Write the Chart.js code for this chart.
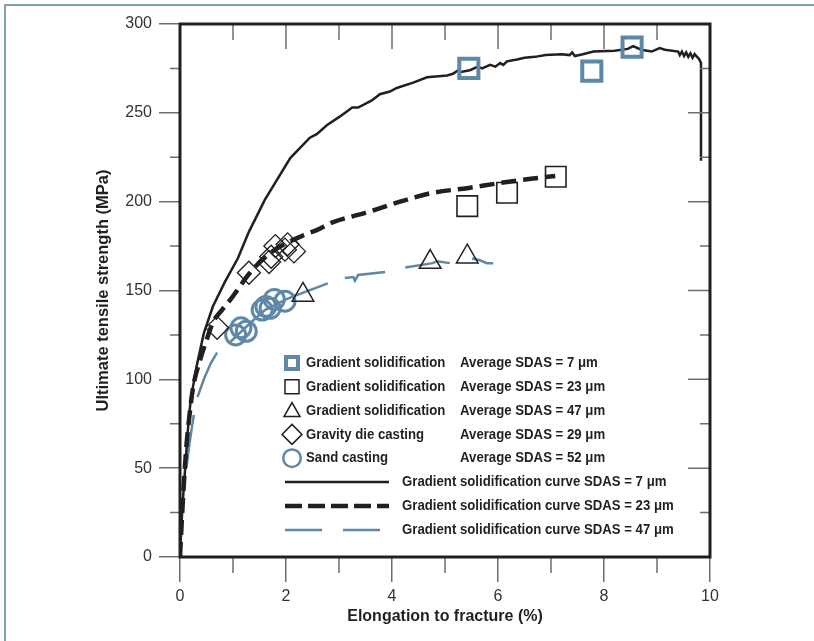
<!DOCTYPE html>
<html>
<head>
<meta charset="utf-8">
<script src="https://cdn.jsdelivr.net/npm/chart.js@4.4.1/dist/chart.umd.min.js"></script>
<style>
  html, body { margin: 0; padding: 0; background: #fff; }
  #wrap { position: relative; width: 814px; height: 641px; }
</style>
</head>
<body>
<div id="wrap"><canvas id="utsChart"></canvas></div>
<script>
// [elongation %, UTS MPa]
const curve7 = [[0,0],[0.02,14],[0.05,30],[0.1,51],[0.15,72],[0.2,88],[0.31,107],[0.45,126],[0.62,141],
  [0.85,155],[1.09,168],[1.3,183],[1.6,201],[2.08,224.5],[2.45,236],[2.58,238],[2.77,243],[3.02,248],
  [3.25,253],[3.36,253],[3.62,257],[3.77,260.5],[3.96,262],[4.09,264],[4.4,267],[4.66,270],[5.04,271],
  [5.15,272],[5.25,274],[5.3,273],[5.47,274],[5.62,276],[5.7,275],[5.85,277],[5.95,276],[6.04,278],
  [6.1,277],[6.17,279],[6.36,280],[6.5,281],[6.7,281.5],[6.9,282.5],[7.2,283],[7.35,282.5],[7.4,284],
  [7.45,282],[7.6,283],[7.8,284.5],[8.2,285],[8.45,286],[8.55,287.5],[8.7,285.5],[8.9,284.5],[9.05,286.5],
  [9.15,285.5],[9.4,284.5],[9.43,282.5],[9.47,284.5],[9.51,282],[9.55,284],[9.59,281.5],[9.63,283.5],
  [9.67,281],[9.71,283],[9.8,280],[9.83,278],[9.83,223]];

const curve23 = [[0,0],[0.03,18],[0.07,40],[0.12,62],[0.18,80],[0.25,96],[0.38,111],[0.5,122],[0.62,132],
  [0.79,139],[0.98,146],[1.32,160],[1.7,171],[2.32,181],[2.58,184],[2.89,188.5],[3.53,194],[4.15,200],
  [4.77,205],[5.42,207.6],[6.04,210.5],[6.66,213],[7.08,214.5]];

// null y = break in the long-dash curve
const curve47 = [[0.12,50],[0.17,62],[0.26,80],[0.3,null],[0.33,90],[0.45,100],[0.58,109],[0.7,115],
  [0.8,null],[0.95,121],[1.3,131],[1.6,139],[2.0,145],[2.3,148.5],[2.79,154],[2.9,null],[3.11,157],
  [3.27,157.6],[3.3,155.5],[3.36,158.7],[3.87,160.4],[4.0,null],[4.25,163],[4.77,165.4],[4.85,166.5],
  [5.09,165.4],[5.3,null],[5.51,168],[5.66,167],[5.79,165.4],[5.91,165.4]];

const gs7 = [[5.45,275],[7.77,273.5],[8.53,287]];
const gs23 = [[5.42,197.5],[6.17,205],[7.09,214]];
const gs47 = [[2.32,147.5],[4.72,166],[5.42,169]];
const gravityDie = [[0.7,129],[1.3,160],[1.68,166],[1.72,169],[1.8,175],[1.98,173],[2.03,176],[2.15,172]];
const sandCast = [[1.05,125],[1.15,129],[1.25,127],[1.55,139],[1.62,141],[1.7,140],[1.78,145],[1.98,144]];

const xTicks = [0, 2, 4, 6, 8, 10];
const yTicks = [0, 50, 100, 150, 200, 250, 300];

const BLUE = '#5e88a7';
const INK = '#231f20';
const TICK = '#6d6e71';

const toXY = arr => arr.map(p => ({ x: p[0], y: p[1] }));

function markerSet(data, style, radius, color, width) {
  return {
    data: toXY(data), showLine: false, order: 0,
    pointStyle: style, pointRadius: radius,
    pointBorderColor: color, pointBackgroundColor: 'rgba(0,0,0,0)',
    pointBorderWidth: width
  };
}

function curveSet(data, color, width, dash, mode) {
  return {
    data: toXY(data), showLine: true, order: 1, spanGaps: false,
    borderColor: color, borderWidth: width, borderDash: dash,
    pointRadius: 0, tension: 0, cubicInterpolationMode: mode || 'default'
  };
}

// legend rows: symbol + two text columns, then three line samples
const legendMarks = [
  ['square', 'Gradient solidification', 'Average SDAS = 7 \u03bcm'],
  ['box', 'Gradient solidification', 'Average SDAS = 23 \u03bcm'],
  ['triangle', 'Gradient solidification', 'Average SDAS = 47 \u03bcm'],
  ['diamond', 'Gravity die casting', 'Average SDAS = 29 \u03bcm'],
  ['circle', 'Sand casting', 'Average SDAS = 52 \u03bcm']
];
const legendLines = [
  ['solid', 'Gradient solidification curve SDAS = 7 \u03bcm'],
  ['dash', 'Gradient solidification curve SDAS = 23 \u03bcm'],
  ['long', 'Gradient solidification curve SDAS = 47 \u03bcm']
];

function drawSymbol(ctx, kind, cx, cy) {
  ctx.save();
  ctx.setLineDash([]);
  ctx.beginPath();
  if (kind === 'square') {
    ctx.strokeStyle = BLUE; ctx.lineWidth = 4;
    ctx.rect(cx - 6, cy - 6, 12, 12);
  } else if (kind === 'box') {
    ctx.strokeStyle = INK; ctx.lineWidth = 1.5;
    ctx.rect(cx - 7, cy - 7, 14, 14);
  } else if (kind === 'triangle') {
    ctx.strokeStyle = INK; ctx.lineWidth = 1.5;
    ctx.moveTo(cx, cy - 8); ctx.lineTo(cx + 8, cy + 6); ctx.lineTo(cx - 8, cy + 6); ctx.closePath();
  } else if (kind === 'diamond') {
    ctx.strokeStyle = INK; ctx.lineWidth = 1.5;
    ctx.moveTo(cx, cy - 10); ctx.lineTo(cx + 10, cy); ctx.lineTo(cx, cy + 10); ctx.lineTo(cx - 10, cy); ctx.closePath();
  } else {
    ctx.strokeStyle = BLUE; ctx.lineWidth = 2.5;
    ctx.arc(cx, cy, 8.8, 0, Math.PI * 2);
  }
  ctx.stroke();
  ctx.restore();
}

function condensedText(ctx, str, x, y) {
  ctx.save();
  ctx.translate(x, y);
  ctx.scale(0.88, 1);
  ctx.fillText(str, 0, 0);
  ctx.restore();
}

const decor = {
  id: 'decor',
  beforeDraw(chart) {
    const ctx = chart.ctx;
    ctx.save();
    ctx.fillStyle = '#fff';
    ctx.fillRect(0, 0, chart.width, chart.height);
    ctx.strokeStyle = '#7d9fb6';
    ctx.lineWidth = 2;
    ctx.beginPath();
    ctx.moveTo(5, chart.height); ctx.lineTo(5, 5); ctx.lineTo(chart.width, 5);
    ctx.stroke();
    ctx.restore();
  },
  afterDraw(chart) {
    const ctx = chart.ctx;
    const { left, right, top, bottom } = chart.chartArea;
    const xs = chart.scales.x, ys = chart.scales.y;
    ctx.save();
    // minor and inner ticks
    ctx.strokeStyle = TICK;
    ctx.lineWidth = 1.5;
    ctx.beginPath();
    for (let v = 1; v < 10; v++) {
      const px = xs.getPixelForValue(v);
      const major = v % 2 === 0;
      ctx.moveTo(px, top); ctx.lineTo(px, top + (major ? 25 : 16));
      if (!major) { ctx.moveTo(px, bottom); ctx.lineTo(px, bottom + 16); }
    }
    for (let v = 25; v < 300; v += 25) {
      const py = ys.getPixelForValue(v);
      const major = v % 50 === 0;
      ctx.moveTo(right, py); ctx.lineTo(right - (major ? 22 : 10), py);
      if (!major) { ctx.moveTo(left, py); ctx.lineTo(left - 10, py); }
    }
    ctx.stroke();
    // plot frame
    ctx.strokeStyle = INK;
    ctx.lineWidth = 3;
    ctx.strokeRect(left, top, right - left, bottom - top);

    // legend
    ctx.fillStyle = INK;
    ctx.textBaseline = 'middle';
    ctx.font = 'bold 15px "Liberation Sans", Arial, sans-serif';
    legendMarks.forEach((row, i) => {
      const y = 363 + i * 23.8;
      drawSymbol(ctx, row[0], 292, y);
      condensedText(ctx, row[1], 306, y);
      condensedText(ctx, row[2], 460, y);
    });
    legendLines.forEach((row, i) => {
      const y = 482 + i * 24;
      ctx.save();
      ctx.beginPath();
      if (row[0] === 'solid') {
        ctx.strokeStyle = INK; ctx.lineWidth = 2.5; ctx.setLineDash([]);
      } else if (row[0] === 'dash') {
        ctx.strokeStyle = INK; ctx.lineWidth = 4.5; ctx.setLineDash([17, 6]);
      } else {
        ctx.strokeStyle = BLUE; ctx.lineWidth = 2.5; ctx.setLineDash([37, 21]);
      }
      ctx.moveTo(285, y); ctx.lineTo(389, y);
      ctx.stroke();
      ctx.restore();
      condensedText(ctx, row[1], 402, y);
    });
    ctx.restore();
  }
};

new Chart(document.getElementById('utsChart'), {
  type: 'scatter',
  data: {
    datasets: [
      markerSet(gs7, 'rect', 13.5, BLUE, 4),
      markerSet(gs23, 'rect', 14.5, INK, 1.6),
      markerSet(gs47, 'triangle', 12.5, INK, 1.5),
      markerSet(gravityDie, 'rectRot', 11.5, INK, 1.3),
      markerSet(sandCast, 'circle', 10, BLUE, 3),
      curveSet(curve7, INK, 2.5, []),
      curveSet(curve23, INK, 4.5, [15, 7], 'monotone'),
      curveSet(curve47, BLUE, 2.5, [])
    ]
  },
  options: {
    responsive: true,
    maintainAspectRatio: false,
    animation: false,
    events: [],
    layout: { padding: { left: 0, top: 24, right: 104, bottom: 0 } },
    plugins: { legend: { display: false }, tooltip: { enabled: false } },
    scales: {
      x: {
        type: 'linear', min: 0, max: 10,
        afterFit: s => { s.height = 84; },
        afterBuildTicks: s => { s.ticks = xTicks.map(v => ({ value: v })); },
        border: { display: false },
        grid: { drawOnChartArea: false, drawTicks: true, tickLength: 25, tickColor: TICK, lineWidth: 1.5 },
        ticks: { padding: 5, color: '#333', font: { family: '"Liberation Sans", Arial, sans-serif', size: 16 } },
        title: {
          display: true, text: 'Elongation to fracture (%)', color: INK,
          padding: { top: 0, bottom: 15 },
          font: { family: '"Liberation Sans", Arial, sans-serif', size: 16, weight: 'bold' }
        }
      },
      y: {
        type: 'linear', min: 0, max: 300,
        afterFit: s => { s.width = 180; },
        afterBuildTicks: s => { s.ticks = yTicks.map(v => ({ value: v })); },
        border: { display: false },
        grid: { drawOnChartArea: false, drawTicks: true, tickLength: 21, tickColor: TICK, lineWidth: 1.5 },
        ticks: { padding: 7, color: '#333', font: { family: '"Liberation Sans", Arial, sans-serif', size: 16 } },
        title: {
          display: true, text: 'Ultimate tensile strength (MPa)', color: INK,
          padding: { top: 94, bottom: 0 },
          font: { family: '"Liberation Sans", Arial, sans-serif', size: 16.5, weight: 'bold' }
        }
      }
    }
  },
  plugins: [decor]
});
</script>
</body>
</html>
